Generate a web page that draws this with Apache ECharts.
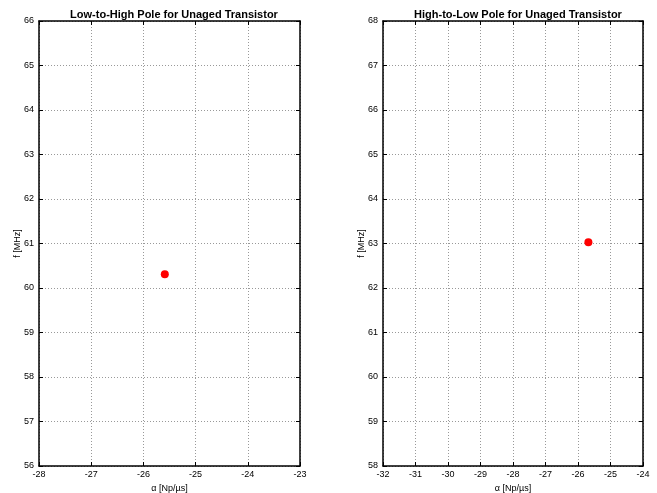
<!DOCTYPE html>
<html>
<head>
<meta charset="utf-8">
<script src="https://cdn.jsdelivr.net/npm/echarts@6/dist/echarts.min.js"></script>
<style>
html,body{margin:0;padding:0;background:#fff;}
#main{width:657px;height:493px;}
</style>
</head>
<body>
<div id="main"></div>
<script>
var titles = ['Low-to-High Pole for Unaged Transistor', 'High-to-Low Pole for Unaged Transistor'];
var xRanges = [[-28, -23], [-32, -24]];
var yRanges = [[56, 66], [58, 68]];
var lowToHigh = [[-25.59, 60.31]];
var highToLow = [[-25.68, 63.03]];

var font = 'Liberation Sans, Arial, Helvetica, sans-serif';
var chart = echarts.init(document.getElementById('main'));

var grids = [
	{left: 39, top: 21, width: 261, height: 445, outerBoundsMode: 'none', containLabel: false},
	{left: 383, top: 21, width: 260, height: 445, outerBoundsMode: 'none', containLabel: false}
];

function mainX(i){
	return {
		type: 'value', gridIndex: i, position: 'bottom',
		min: xRanges[i][0], max: xRanges[i][1], interval: 1,
		name: 'α [Np/µs]', nameLocation: 'middle', nameGap: 18,
		nameMoveOverlap: false,
		nameTextStyle: {fontFamily: font, fontSize: 9, color: '#000'},
		axisLine: {show: true, lineStyle: {color: '#000', width: 1.5}},
		axisTick: {inside: true, length: 4, lineStyle: {color: '#000'}},
		axisLabel: {fontFamily: font, fontSize: 9, color: '#000', margin: 4},
		splitLine: {show: true, lineStyle: {color: '#999', type: [1, 2], width: 1}}
	};
}
function sideX(i){
	return {
		type: 'value', gridIndex: i, position: 'top',
		min: xRanges[i][0], max: xRanges[i][1], interval: 1,
		axisLine: {show: true, lineStyle: {color: '#000', width: 1.5}},
		axisTick: {inside: true, length: 4, lineStyle: {color: '#000'}},
		axisLabel: {show: false}, splitLine: {show: false}
	};
}
function mainY(i){
	return {
		type: 'value', gridIndex: i, position: 'left',
		min: yRanges[i][0], max: yRanges[i][1], interval: 1,
		name: 'f [MHz]', nameLocation: 'middle', nameGap: 17, nameRotate: 90,
		nameMoveOverlap: false,
		nameTextStyle: {fontFamily: font, fontSize: 9, color: '#000'},
		axisLine: {show: true, lineStyle: {color: '#000', width: 1.5}},
		axisTick: {inside: true, length: 4, lineStyle: {color: '#000'}},
		axisLabel: {fontFamily: font, fontSize: 9, color: '#000', margin: 5},
		splitLine: {show: true, lineStyle: {color: '#999', type: [1, 2], width: 1}}
	};
}
function sideY(i){
	return {
		type: 'value', gridIndex: i, position: 'right',
		min: yRanges[i][0], max: yRanges[i][1], interval: 1,
		axisLine: {show: true, lineStyle: {color: '#000', width: 1.5}},
		axisTick: {inside: true, length: 4, lineStyle: {color: '#000'}},
		axisLabel: {show: false}, splitLine: {show: false}
	};
}

var option = {
	backgroundColor: '#fff',
	animation: false,
	title: [
		{text: titles[0], left: 169, top: 4, textAlign: 'center',
			textStyle: {fontFamily: font, fontSize: 11, fontWeight: 'bold', color: '#000'}},
		{text: titles[1], left: 513, top: 4, textAlign: 'center',
			textStyle: {fontFamily: font, fontSize: 11, fontWeight: 'bold', color: '#000'}}
	],
	grid: grids,
	xAxis: [mainX(0), sideX(0), mainX(1), sideX(1)],
	yAxis: [mainY(0), sideY(0), mainY(1), sideY(1)],
	series: [
		{type: 'scatter', xAxisIndex: 0, yAxisIndex: 0, data: lowToHigh,
			symbolSize: 8, itemStyle: {color: '#ff0000', opacity: 1}},
		{type: 'scatter', xAxisIndex: 2, yAxisIndex: 2, data: highToLow,
			symbolSize: 8, itemStyle: {color: '#ff0000', opacity: 1}}
	]
};
chart.setOption(option);
</script>
</body>
</html>
